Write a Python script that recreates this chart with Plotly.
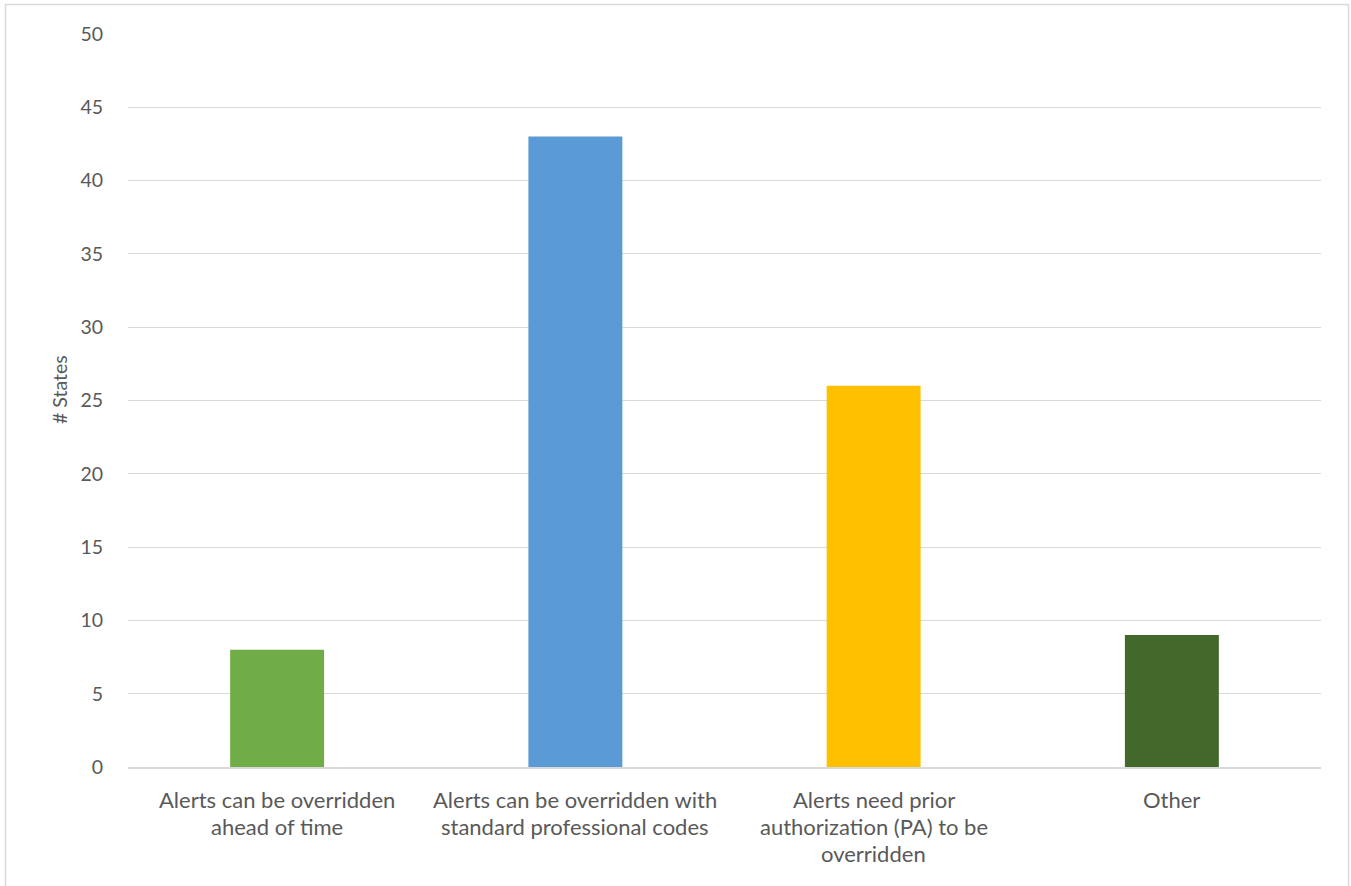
import plotly.graph_objects as go

categories = [
    "Alerts can be overridden<br>ahead of time",
    "Alerts can be overridden with<br>standard professional codes",
    "Alerts need prior<br>authorization (PA) to be<br>overridden",
    "Other",
]
states = [8, 43, 26, 9]
bar_colors = ["#70AD47", "#5B9BD5", "#FFC000", "#43682B"]
y_ticks = [0, 5, 10, 15, 20, 25, 30, 35, 40, 45, 50]

W, H = 1351, 886
L, R, T, B = 128, 30, 34, 119
pw, ph = W - L - R, H - T - B
TEXT = "#595959"
FONT = "Lato, Calibri, sans-serif"

fig = go.Figure(
    go.Bar(
        x=categories,
        y=states,
        marker=dict(color=bar_colors, line=dict(width=0)),
        width=0.315,
    )
)


def px_x(v):
    return (v - L) / pw


def px_y(v):
    return (H - B - v) / ph


# outer chart border
fig.add_shape(
    type="rect", xref="paper", yref="paper",
    x0=px_x(5.5), x1=px_x(1348.5), y0=px_y(H + 20), y1=px_y(4.5),
    line=dict(color="#D9D9D9", width=1.5), fillcolor="rgba(0,0,0,0)", layer="below",
)

# category labels, one annotation per line for wider line spacing
for cat in categories:
    for i, line in enumerate(cat.split("<br>")):
        fig.add_annotation(
            x=cat, y=0, xref="x", yref="y", text=line, showarrow=False,
            yanchor="middle", yshift=-(32 + 27 * i),
            font=dict(family=FONT, size=22, color=TEXT),
        )

# y-axis title
fig.add_annotation(
    x=px_x(60), y=px_y(390), xref="paper", yref="paper", text="# States",
    showarrow=False, textangle=-90, xanchor="center", yanchor="middle",
    font=dict(family=FONT, size=19.5, color=TEXT),
)

fig.update_layout(
    width=W, height=H,
    margin=dict(l=L, r=R, t=T, b=B),
    paper_bgcolor="white", plot_bgcolor="white",
    font=dict(family=FONT, size=16, color=TEXT),
    showlegend=False,
    xaxis=dict(
        showgrid=False, showline=True, linecolor="#D9D9D9", linewidth=1.5,
        ticks="", showticklabels=False,
    ),
    yaxis=dict(
        range=[0, 50], tickvals=y_ticks, showgrid=True, gridcolor="#D9D9D9",
        gridwidth=1, zeroline=False, showline=False, ticks="",
        tickfont=dict(size=19.5, color=TEXT), ticklabelstandoff=24,
    ),
)

fig.write_html("out.html")
